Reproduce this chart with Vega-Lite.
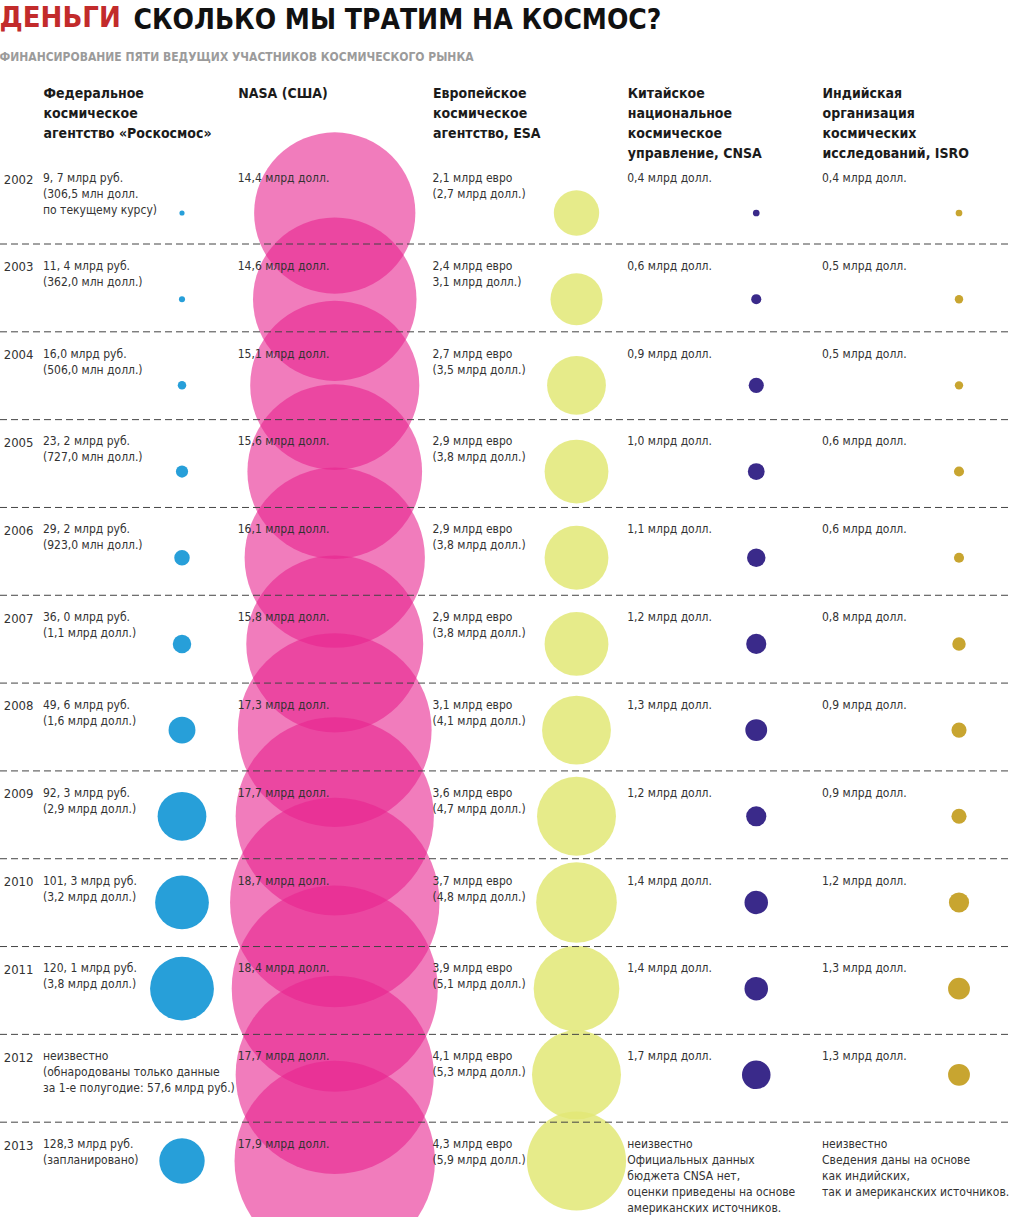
{
  "$schema": "https://vega.github.io/schema/vega-lite/v6.json",
  "width": 970,
  "height": 1052,
  "autosize": {"type": "none"},
  "padding": {"left": 40, "top": 165, "right": 0, "bottom": 0},
  "background": "white",
  "config": {"view": {"stroke": null}, "font": "DejaVu Sans Condensed"},
  "title": {
    "text": "ДЕНЬГИ",
    "subtitle": "ФИНАНСИРОВАНИЕ ПЯТИ ВЕДУЩИХ УЧАСТНИКОВ КОСМИЧЕСКОГО РЫНКА",
    "anchor": "start",
    "frame": "bounds",
    "font": "DejaVu Sans Condensed",
    "fontSize": 29,
    "fontWeight": "bold",
    "color": "#c22b2b",
    "subtitleFont": "DejaVu Sans Condensed",
    "subtitleFontSize": 12,
    "subtitleFontWeight": "bold",
    "subtitleColor": "#9b9b9b",
    "subtitlePadding": 19,
    "offset": -57
  },
  "data": {"values": [
    {"year": 2002, "agency": "Роскосмос", "text": "9, 7 млрд руб.\n(306,5 млн долл.\nпо текущему курсу)", "usd": 0.3065},
    {"year": 2003, "agency": "Роскосмос", "text": "11, 4 млрд руб.\n(362,0 млн долл.)", "usd": 0.362},
    {"year": 2004, "agency": "Роскосмос", "text": "16,0 млрд руб.\n(506,0 млн долл.)", "usd": 0.506},
    {"year": 2005, "agency": "Роскосмос", "text": "23, 2 млрд руб.\n(727,0 млн долл.)", "usd": 0.727},
    {"year": 2006, "agency": "Роскосмос", "text": "29, 2 млрд руб.\n(923,0 млн долл.)", "usd": 0.923},
    {"year": 2007, "agency": "Роскосмос", "text": "36, 0 млрд руб.\n(1,1 млрд долл.)", "usd": 1.1},
    {"year": 2008, "agency": "Роскосмос", "text": "49, 6 млрд руб.\n(1,6 млрд долл.)", "usd": 1.6},
    {"year": 2009, "agency": "Роскосмос", "text": "92, 3 млрд руб.\n(2,9 млрд долл.)", "usd": 2.9},
    {"year": 2010, "agency": "Роскосмос", "text": "101, 3 млрд руб.\n(3,2 млрд долл.)", "usd": 3.2},
    {"year": 2011, "agency": "Роскосмос", "text": "120, 1 млрд руб.\n(3,8 млрд долл.)", "usd": 3.8},
    {"year": 2012, "agency": "Роскосмос", "text": "неизвестно\n(обнародованы только данные\nза 1-е полугодие: 57,6 млрд руб.)", "usd": null},
    {"year": 2013, "agency": "Роскосмос", "text": "128,3 млрд руб.\n(запланировано)", "usd": 2.7},
    {"year": 2002, "agency": "NASA", "text": "14,4 млрд долл.", "usd": 14.4},
    {"year": 2003, "agency": "NASA", "text": "14,6 млрд долл.", "usd": 14.6},
    {"year": 2004, "agency": "NASA", "text": "15,1 млрд долл.", "usd": 15.1},
    {"year": 2005, "agency": "NASA", "text": "15,6 млрд долл.", "usd": 15.6},
    {"year": 2006, "agency": "NASA", "text": "16,1 млрд долл.", "usd": 16.1},
    {"year": 2007, "agency": "NASA", "text": "15,8 млрд долл.", "usd": 15.8},
    {"year": 2008, "agency": "NASA", "text": "17,3 млрд долл.", "usd": 17.3},
    {"year": 2009, "agency": "NASA", "text": "17,7 млрд долл.", "usd": 17.7},
    {"year": 2010, "agency": "NASA", "text": "18,7 млрд долл.", "usd": 18.7},
    {"year": 2011, "agency": "NASA", "text": "18,4 млрд долл.", "usd": 18.4},
    {"year": 2012, "agency": "NASA", "text": "17,7 млрд долл.", "usd": 17.7},
    {"year": 2013, "agency": "NASA", "text": "17,9 млрд долл.", "usd": 17.9},
    {"year": 2002, "agency": "ESA", "text": "2,1 млрд евро\n(2,7 млрд долл.)", "usd": 2.7},
    {"year": 2003, "agency": "ESA", "text": "2,4 млрд евро\n3,1 млрд долл.)", "usd": 3.1},
    {"year": 2004, "agency": "ESA", "text": "2,7 млрд евро\n(3,5 млрд долл.)", "usd": 3.5},
    {"year": 2005, "agency": "ESA", "text": "2,9 млрд евро\n(3,8 млрд долл.)", "usd": 3.8},
    {"year": 2006, "agency": "ESA", "text": "2,9 млрд евро\n(3,8 млрд долл.)", "usd": 3.8},
    {"year": 2007, "agency": "ESA", "text": "2,9 млрд евро\n(3,8 млрд долл.)", "usd": 3.8},
    {"year": 2008, "agency": "ESA", "text": "3,1 млрд евро\n(4,1 млрд долл.)", "usd": 4.1},
    {"year": 2009, "agency": "ESA", "text": "3,6 млрд евро\n(4,7 млрд долл.)", "usd": 4.7},
    {"year": 2010, "agency": "ESA", "text": "3,7 млрд евро\n(4,8 млрд долл.)", "usd": 4.8},
    {"year": 2011, "agency": "ESA", "text": "3,9 млрд евро\n(5,1 млрд долл.)", "usd": 5.1},
    {"year": 2012, "agency": "ESA", "text": "4,1 млрд евро\n(5,3 млрд долл.)", "usd": 5.3},
    {"year": 2013, "agency": "ESA", "text": "4,3 млрд евро\n(5,9 млрд долл.)", "usd": 5.9},
    {"year": 2002, "agency": "CNSA", "text": "0,4 млрд долл.", "usd": 0.4},
    {"year": 2003, "agency": "CNSA", "text": "0,6 млрд долл.", "usd": 0.6},
    {"year": 2004, "agency": "CNSA", "text": "0,9 млрд долл.", "usd": 0.9},
    {"year": 2005, "agency": "CNSA", "text": "1,0 млрд долл.", "usd": 1.0},
    {"year": 2006, "agency": "CNSA", "text": "1,1 млрд долл.", "usd": 1.1},
    {"year": 2007, "agency": "CNSA", "text": "1,2 млрд долл.", "usd": 1.2},
    {"year": 2008, "agency": "CNSA", "text": "1,3 млрд долл.", "usd": 1.3},
    {"year": 2009, "agency": "CNSA", "text": "1,2 млрд долл.", "usd": 1.2},
    {"year": 2010, "agency": "CNSA", "text": "1,4 млрд долл.", "usd": 1.4},
    {"year": 2011, "agency": "CNSA", "text": "1,4 млрд долл.", "usd": 1.4},
    {"year": 2012, "agency": "CNSA", "text": "1,7 млрд долл.", "usd": 1.7},
    {"year": 2013, "agency": "CNSA", "text": "неизвестно\nОфициальных данных\nбюджета CNSA нет,\nоценки приведены на основе\nамериканских источников.", "usd": null},
    {"year": 2002, "agency": "ISRO", "text": "0,4 млрд долл.", "usd": 0.4},
    {"year": 2003, "agency": "ISRO", "text": "0,5 млрд долл.", "usd": 0.5},
    {"year": 2004, "agency": "ISRO", "text": "0,5 млрд долл.", "usd": 0.5},
    {"year": 2005, "agency": "ISRO", "text": "0,6 млрд долл.", "usd": 0.6},
    {"year": 2006, "agency": "ISRO", "text": "0,6 млрд долл.", "usd": 0.6},
    {"year": 2007, "agency": "ISRO", "text": "0,8 млрд долл.", "usd": 0.8},
    {"year": 2008, "agency": "ISRO", "text": "0,9 млрд долл.", "usd": 0.9},
    {"year": 2009, "agency": "ISRO", "text": "0,9 млрд долл.", "usd": 0.9},
    {"year": 2010, "agency": "ISRO", "text": "1,2 млрд долл.", "usd": 1.2},
    {"year": 2011, "agency": "ISRO", "text": "1,3 млрд долл.", "usd": 1.3},
    {"year": 2012, "agency": "ISRO", "text": "1,3 млрд долл.", "usd": 1.3},
    {"year": 2013, "agency": "ISRO", "text": "неизвестно\nСведения даны на основе\nкак индийских,\nтак и американских источников.", "usd": null}
  ]},
  "layer": [
    {
      "layer": [
        {
          "transform": [{"filter": "datum.agency === 'Роскосмос' && isValid(datum.usd)"}],
          "mark": {"type": "circle", "color": "#279fd9", "opacity": 1, "xOffset": 139},
          "encoding": {
            "x": {"field": "agency", "type": "nominal", "scale": {"type": "point", "domain": ["Роскосмос", "NASA", "ESA", "CNSA", "ISRO"], "range": [3, 782], "padding": 0}},
            "y": {"field": "year", "type": "quantitative", "scale": {"domain": [2002, 2013], "range": [48, 996], "zero": false, "nice": false}, "axis": null},
            "size": {"field": "usd", "type": "quantitative", "scale": {"type": "pow", "exponent": 2, "domain": [0, 1], "range": [0, 282.2]}, "legend": null}
          }
        },
        {
          "transform": [{"filter": "datum.agency === 'NASA' && isValid(datum.usd)"}],
          "mark": {"type": "circle", "color": "#e8258f", "opacity": 0.6, "xOffset": 97},
          "encoding": {
            "x": {"field": "agency", "type": "nominal", "scale": {"type": "point", "domain": ["Роскосмос", "NASA", "ESA", "CNSA", "ISRO"], "range": [3, 782], "padding": 0}},
            "y": {"field": "year", "type": "quantitative", "scale": {"domain": [2002, 2013], "range": [48, 996], "zero": false, "nice": false}, "axis": null},
            "size": {"field": "usd", "type": "quantitative", "scale": {"type": "pow", "exponent": 2, "domain": [0, 1], "range": [0, 125.4]}, "legend": null}
          }
        },
        {
          "transform": [{"filter": "datum.agency === 'ESA' && isValid(datum.usd)"}],
          "mark": {"type": "circle", "color": "#e2e776", "opacity": 0.85, "xOffset": 144},
          "encoding": {
            "x": {"field": "agency", "type": "nominal", "scale": {"type": "point", "domain": ["Роскосмос", "NASA", "ESA", "CNSA", "ISRO"], "range": [3, 782], "padding": 0}},
            "y": {"field": "year", "type": "quantitative", "scale": {"domain": [2002, 2013], "range": [48, 996], "zero": false, "nice": false}, "axis": null},
            "size": {"field": "usd", "type": "quantitative", "scale": {"type": "pow", "exponent": 2, "domain": [0, 1], "range": [0, 282.2]}, "legend": null}
          }
        },
        {
          "transform": [{"filter": "datum.agency === 'CNSA' && isValid(datum.usd)"}],
          "mark": {"type": "circle", "color": "#3a2a8a", "opacity": 1, "xOffset": 129},
          "encoding": {
            "x": {"field": "agency", "type": "nominal", "scale": {"type": "point", "domain": ["Роскосмос", "NASA", "ESA", "CNSA", "ISRO"], "range": [3, 782], "padding": 0}},
            "y": {"field": "year", "type": "quantitative", "scale": {"domain": [2002, 2013], "range": [48, 996], "zero": false, "nice": false}, "axis": null},
            "size": {"field": "usd", "type": "quantitative", "scale": {"type": "pow", "exponent": 2, "domain": [0, 1], "range": [0, 282.2]}, "legend": null}
          }
        },
        {
          "transform": [{"filter": "datum.agency === 'ISRO' && isValid(datum.usd)"}],
          "mark": {"type": "circle", "color": "#c8a530", "opacity": 1, "xOffset": 137},
          "encoding": {
            "x": {"field": "agency", "type": "nominal", "scale": {"type": "point", "domain": ["Роскосмос", "NASA", "ESA", "CNSA", "ISRO"], "range": [3, 782], "padding": 0}},
            "y": {"field": "year", "type": "quantitative", "scale": {"domain": [2002, 2013], "range": [48, 996], "zero": false, "nice": false}, "axis": null},
            "size": {"field": "usd", "type": "quantitative", "scale": {"type": "pow", "exponent": 2, "domain": [0, 1], "range": [0, 282.2]}, "legend": null}
          }
        }
      ],
      "resolve": {"scale": {"size": "independent"}}
    },
    {
      "layer": [
        {
          "transform": [{"filter": "datum.agency === 'NASA' && datum.year < 2013"}],
          "mark": {"type": "rule", "color": "#444444", "strokeDash": [7, 4], "strokeWidth": 1, "yOffset": 71},
          "encoding": {
            "y": {"field": "year", "type": "quantitative", "scale": {"domain": [2002, 2013], "range": [8, 974], "zero": false, "nice": false}},
            "x": {"value": -40},
            "x2": {"value": 970}
          }
        },
        {
          "mark": {"type": "text", "align": "left", "baseline": "top", "lineBreak": "\n", "fontSize": 12, "lineHeight": 16, "color": "#333333", "font": "DejaVu Sans Condensed"},
          "encoding": {
            "x": {
              "field": "agency", "type": "nominal",
              "scale": {"type": "point", "domain": ["Роскосмос", "NASA", "ESA", "CNSA", "ISRO"], "range": [3, 782], "padding": 0},
              "axis": {
                "orient": "top",
                "title": "СКОЛЬКО МЫ ТРАТИМ НА КОСМОС?",
                "titleX": 93, "titleY": -137, "titleAlign": "left", "titleAnchor": "start", "titleBaseline": "alphabetic", "titleAngle": 0,
                "titleFont": "DejaVu Sans Condensed", "titleFontSize": 28, "titleFontWeight": "bold", "titleColor": "#111111",
                "labelExpr": "datum.value === 'Роскосмос' ? ['Федеральное', 'космическое', 'агентство «Роскосмос»'] : datum.value === 'NASA' ? ['NASA (США)'] : datum.value === 'ESA' ? ['Европейское', 'космическое', 'агентство, ESA'] : datum.value === 'CNSA' ? ['Китайское', 'национальное', 'космическое', 'управление, CNSA'] : ['Индийская', 'организация', 'космических', 'исследований, ISRO']",
                "labelFont": "DejaVu Sans Condensed",
                "labelAlign": "left", "labelBaseline": "top", "labelPadding": 79, "labelFontSize": 14, "labelFontWeight": "bold", "labelColor": "#1b1b1b", "labelLineHeight": 20, "labelLimit": 400, "labelOverlap": false, "labelAngle": 0, "labelFlush": false,
                "ticks": false, "tickSize": 0, "domain": false, "grid": false
              }
            },
            "y": {
              "field": "year", "type": "quantitative",
              "scale": {"domain": [2002, 2013], "range": [8, 974], "zero": false, "nice": false},
              "axis": {"orient": "left", "values": [2002, 2003, 2004, 2005, 2006, 2007, 2008, 2009, 2010, 2011, 2012, 2013], "format": "d", "title": null, "labelFont": "DejaVu Sans Condensed", "labelBaseline": "top", "labelAlign": "right", "labelPadding": 7, "labelFontSize": 13, "labelColor": "#333333", "ticks": false, "tickSize": 0, "domain": false, "grid": false, "labelFlush": false, "labelOverlap": false}
            },
            "text": {"field": "text"}
          }
        }
      ]
    }
  ],
  "resolve": {"scale": {"y": "independent"}}
}
